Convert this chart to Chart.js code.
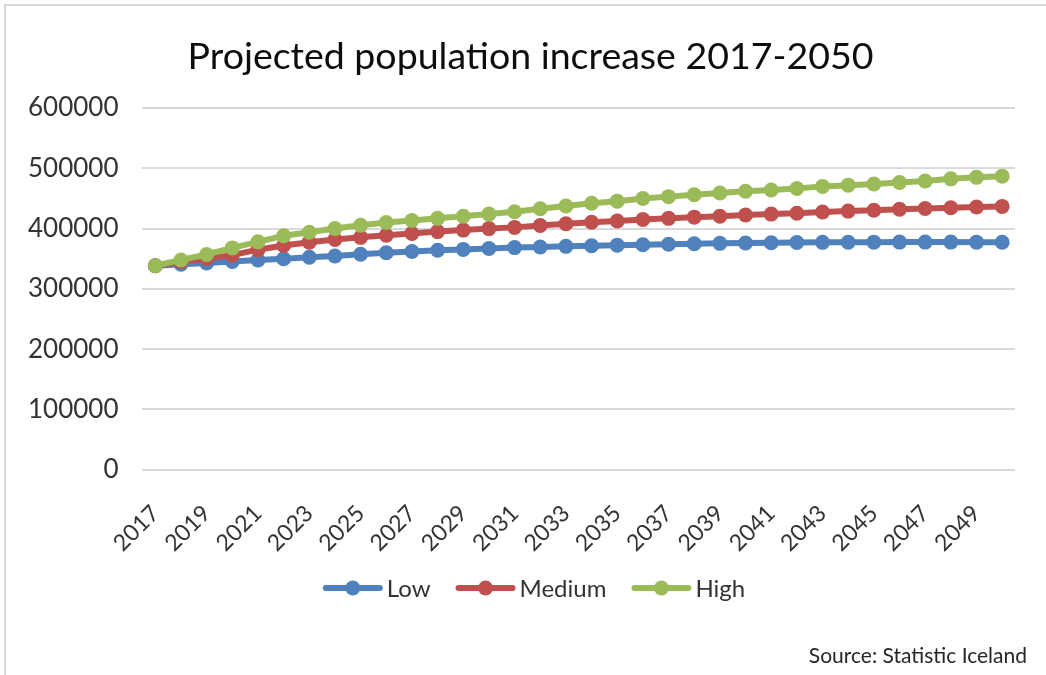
<!DOCTYPE html>
<html>
<head>
<meta charset="utf-8">
<script src="https://cdn.jsdelivr.net/npm/chart.js@4.4.0/dist/chart.umd.min.js"></script>
<style>
  html, body { margin: 0; padding: 0; background: #fff; overflow: hidden; }
  #frame { position: absolute; left: 4px; top: 4px; width: 1100px; height: 720px; border: 2px solid #d9d9d9; }
  #wrap { position: absolute; left: 0; top: 0; width: 1046px; height: 675px; }
  #source { position: absolute; right: 19px; top: 642px; font: 21px Lato, sans-serif; color: #262626; }
</style>
</head>
<body>
<div id="frame"></div>
<div id="wrap"><canvas id="popChart" width="1046" height="675"></canvas></div>
<div id="source">Source: Statistic Iceland</div>
<script>
// Categories
const years = ['2017', '2018', '2019', '2020', '2021', '2022', '2023', '2024', '2025', '2026',
    '2027', '2028', '2029', '2030', '2031', '2032', '2033', '2034', '2035', '2036',
    '2037', '2038', '2039', '2040', '2041', '2042', '2043', '2044', '2045', '2046',
    '2047', '2048', '2049', '2050'];

// Series values
const low = [338300, 341000, 343000, 345500, 348000, 350000, 352500, 354500, 357500, 360000,
    362000, 364000, 365500, 367000, 368500, 369500, 370500, 371500, 372500, 373300,
    374000, 374800, 375500, 376000, 376500, 377000, 377200, 377400, 377500, 377600,
    377600, 377600, 377500, 377400];
const medium = [338300, 345000, 350500, 356000, 365000, 372000, 377500, 382000, 385500, 389000,
    392000, 395000, 397500, 400000, 402000, 405000, 408000, 410500, 412500, 415000,
    417000, 419000, 420500, 422500, 424000, 425500, 427500, 429000, 430500, 432000,
    433200, 434500, 435700, 436800];
const high = [338300, 348000, 357000, 368000, 378000, 388000, 394000, 400000, 405500, 410000,
    413500, 417000, 420500, 424000, 428000, 433000, 437500, 442000, 445500, 450000,
    453000, 456000, 459000, 462000, 464000, 466500, 470000, 472000, 474000, 476500,
    479000, 482500, 485000, 487000];

// Y axis ticks
const yTicks = [0, 100000, 200000, 300000, 400000, 500000, 600000];

const FONT = 'Lato, sans-serif';
const TEXT = '#333333';

function series(label, data, color, order) {
    return {
        label: label,
        data: data,
        borderColor: color,
        backgroundColor: color,
        borderWidth: 6,
        pointRadius: 7.5,
        pointHoverRadius: 7.5,
        pointBorderWidth: 0,
        pointBackgroundColor: color,
        tension: 0,
        order: order
    };
}

// Excel-style legend: line with a dot in the middle
const lineLegend = {
    id: 'lineLegend',
    afterLayout(chart) {
        // centre the title over the whole frame rather than the padded box
        if (chart.titleBlock) chart.titleBlock.left += 42;
    },
    afterDraw(chart) {
        const ctx = chart.ctx;
        const items = chart.data.datasets;
        const lineW = 60, gap = 4, spacing = 25;
        ctx.save();
        ctx.font = '24px ' + FONT;
        let total = 0;
        items.forEach((ds, i) => {
            total += lineW + gap + ctx.measureText(ds.label).width + (i < items.length - 1 ? spacing : 0);
        });
        let x = chart.width / 2 + 11 - total / 2;
        const y = 588;
        items.forEach(ds => {
            ctx.strokeStyle = ds.borderColor;
            ctx.lineWidth = 6;
            ctx.lineCap = 'round';
            ctx.beginPath();
            ctx.moveTo(x + 3, y);
            ctx.lineTo(x + lineW - 3, y);
            ctx.stroke();
            ctx.fillStyle = ds.borderColor;
            ctx.beginPath();
            ctx.arc(x + lineW / 2, y, 7.5, 0, Math.PI * 2);
            ctx.fill();
            ctx.fillStyle = TEXT;
            ctx.textBaseline = 'middle';
            ctx.textAlign = 'left';
            ctx.fillText(ds.label, x + lineW + gap, y + 1);
            x += lineW + gap + ctx.measureText(ds.label).width + spacing;
        });
        ctx.restore();
    }
};

const ctx = document.getElementById('popChart').getContext('2d');
const popChart = new Chart(ctx, {
    type: 'line',
    data: {
        labels: years,
        datasets: [
            series('Low', low, '#4f81bd', 2),
            series('Medium', medium, '#c0504d', 1),
            series('High', high, '#9bbb59', 0)
        ]
    },
    options: {
        responsive: false,
        animation: false,
        layout: {
            padding: { left: 4, right: 31, top: 0, bottom: 96 }
        },
        plugins: {
            legend: { display: false },
            tooltip: { enabled: false },
            title: {
                display: true,
                text: 'Projected population increase 2017-2050',
                color: '#0d0d0d',
                font: { family: FONT, size: 37.5, weight: 'normal' },
                padding: { top: 34, bottom: 29 }
            }
        },
        scales: {
            x: {
                offset: true,
                grid: { display: false },
                border: { display: false },
                ticks: {
                    color: TEXT,
                    font: { family: FONT, size: 23 },
                    autoSkip: false,
                    minRotation: 45,
                    maxRotation: 45,
                    padding: 22,
                    callback: function (value, index) {
                        return index % 2 === 0 ? this.getLabelForValue(value) : '';
                    }
                }
            },
            y: {
                min: yTicks[0],
                max: yTicks[yTicks.length - 1],
                afterBuildTicks: axis => {
                    axis.ticks = yTicks.map(v => ({ value: v }));
                },
                grid: { color: '#d9d9d9', lineWidth: 2, drawTicks: false },
                border: { display: false },
                ticks: {
                    color: TEXT,
                    font: { family: FONT, size: 26 },
                    padding: 24,
                    callback: value => String(value)
                }
            }
        }
    },
    plugins: [lineLegend]
});
</script>
</body>
</html>
